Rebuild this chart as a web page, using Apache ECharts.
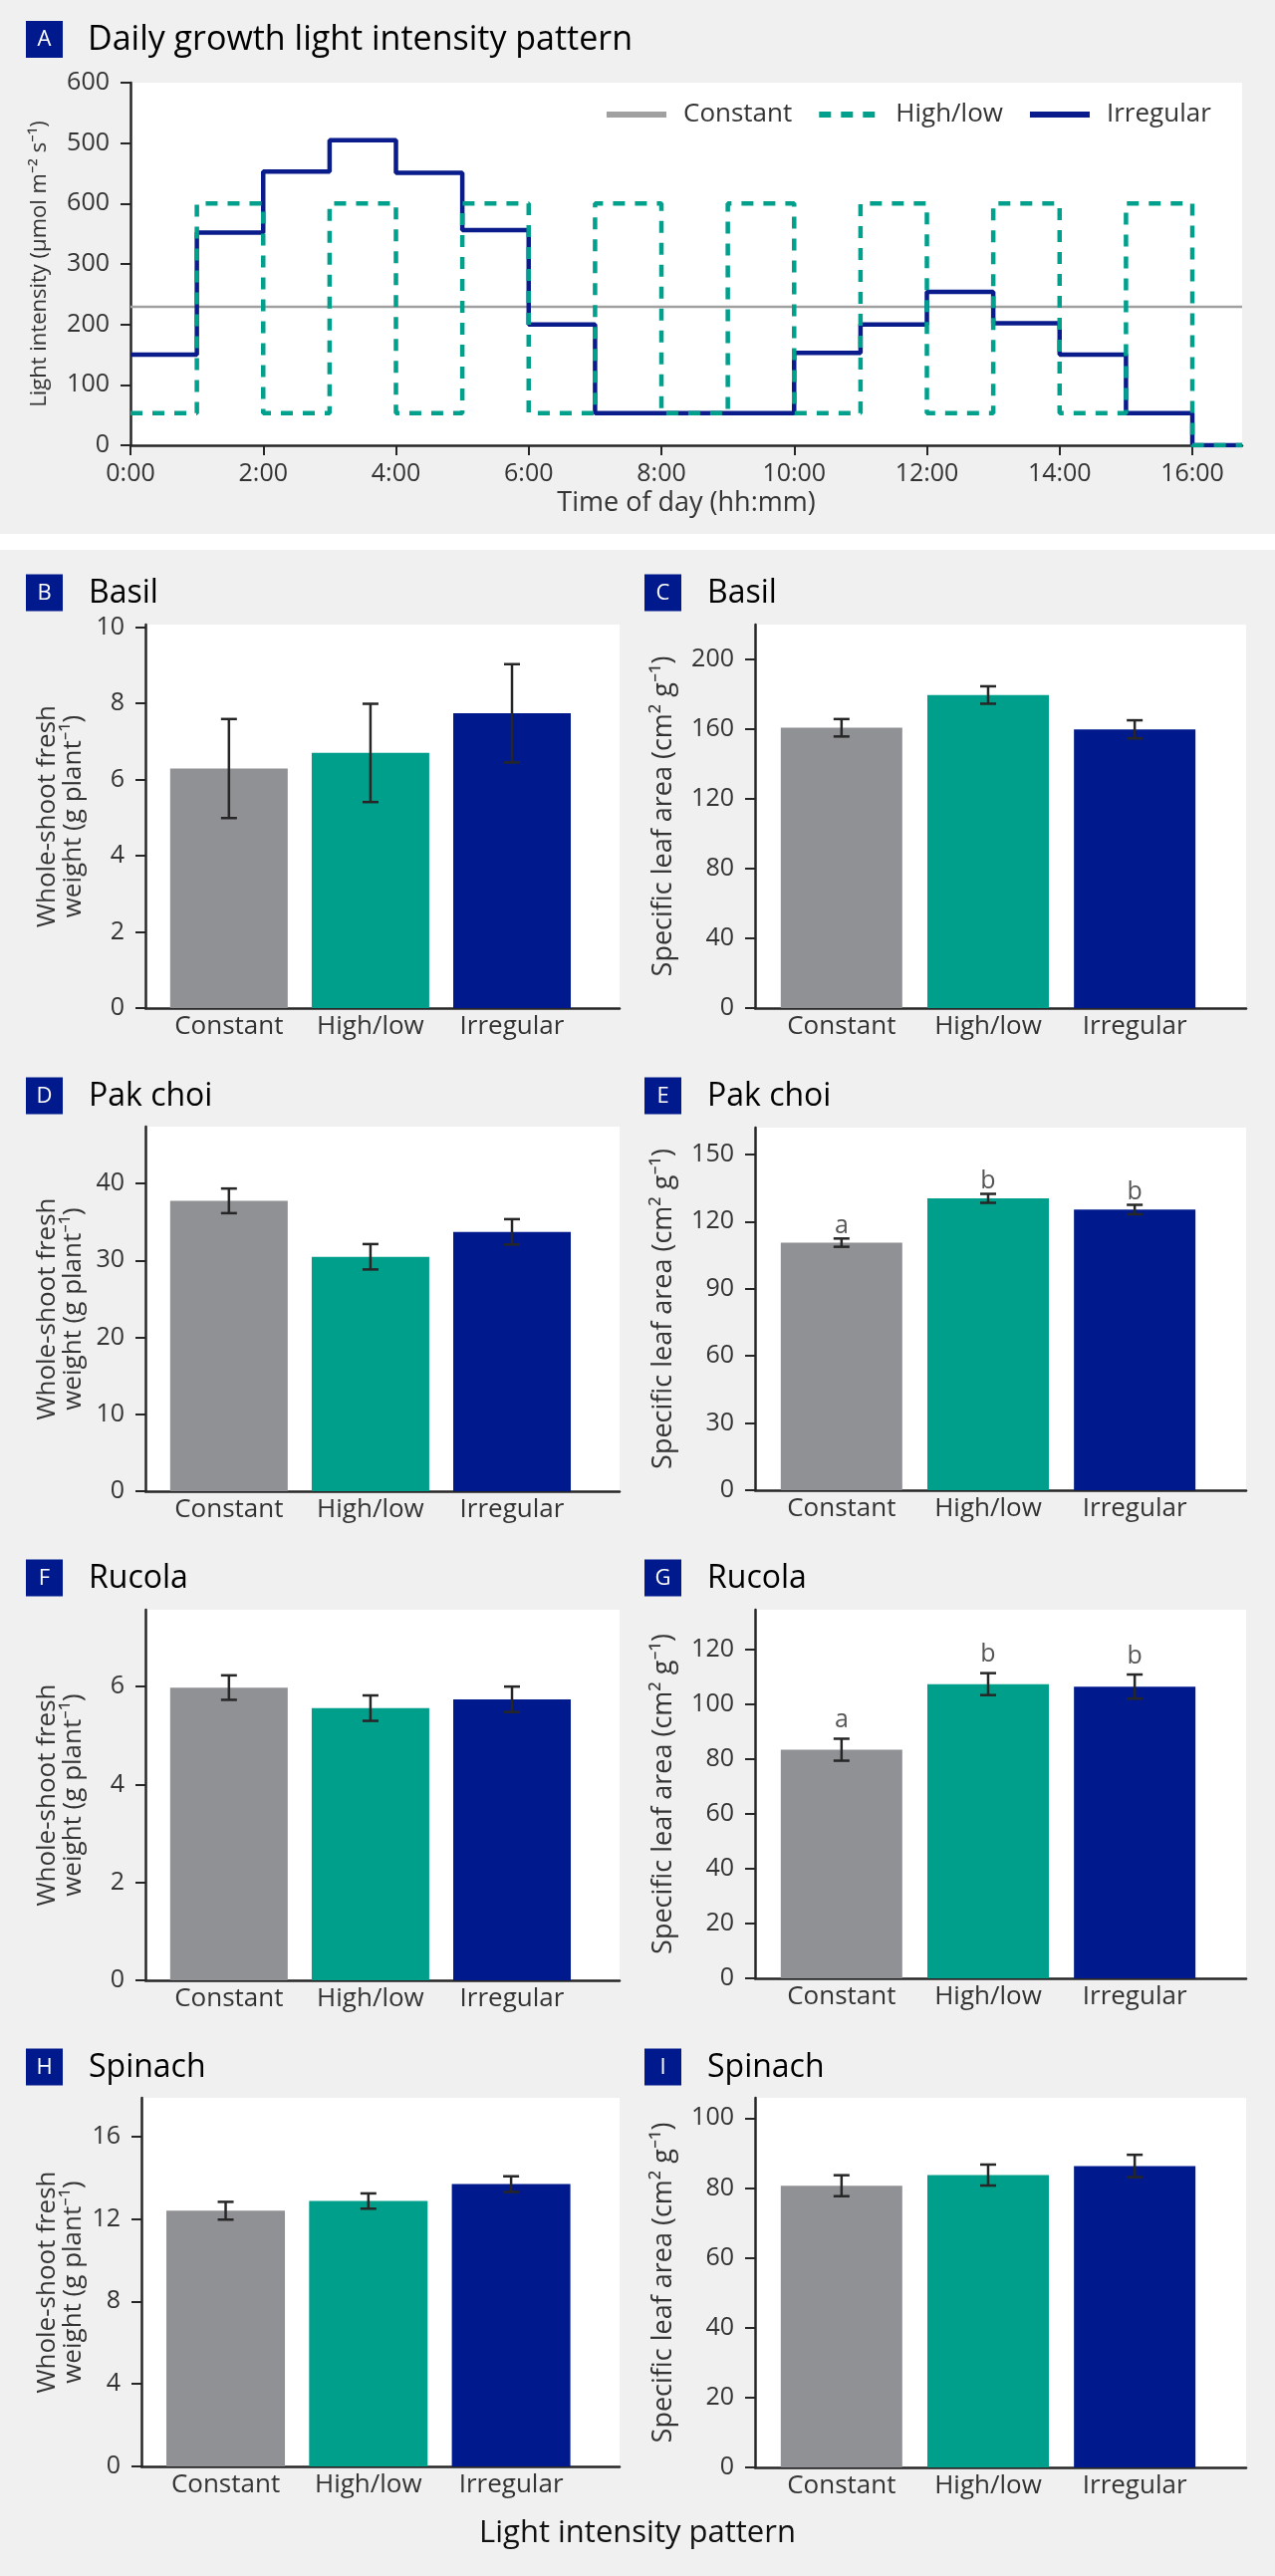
<!DOCTYPE html>
<html>
<head>
<meta charset="utf-8">
<title>Light intensity pattern and plant growth</title>
<script src="https://cdn.jsdelivr.net/npm/echarts@6/dist/echarts.min.js"></script>
<style>
    html, body { margin: 0; padding: 0; background: #f0f0f0; }
    #chart { width: 1280px; height: 2586px; }
</style>
</head>
<body>
<div id="chart"></div>
<script>
// ---- panel A: daily light profile (one level per hour) ----
var hourStarts = [0, 1, 2, 3, 4, 5, 6, 7, 8, 9, 10, 11, 12, 13, 14, 15, 16, 16.75];
var constantLevel = 229;
var highLowLevels = [53, 400, 53, 400, 53, 400, 53, 400, 53, 400, 53, 400, 53, 400, 53, 400, 0];
var irregularLevels = [150, 352, 453, 505, 451, 356, 200, 53, 53, 53, 153, 200, 254, 202, 150, 53, 0];
var hourTicks = [0, 2, 4, 6, 8, 10, 12, 14, 16];
var hourTickLabels = ['0:00', '2:00', '4:00', '6:00', '8:00', '10:00', '12:00', '14:00', '16:00'];
var lightTicks = [0, 100, 200, 300, 400, 500, 600];
var lightTickLabels = ['0', '100', '200', '300', '600', '500', '600'];

// ---- panels B-I: bars with error bars ----
var patterns = ['Constant', 'High/low', 'Irregular'];
var barSlots = [1, 2, 3];

var basilWeight = [6.29, 6.70, 7.74];
var basilWeightErr = [1.30, 1.29, 1.29];
var basilArea = [160.8, 179.6, 159.9];
var basilAreaErr = [5.0, 5.0, 5.2];
var pakChoiWeight = [37.75, 30.48, 33.72];
var pakChoiWeightErr = [1.6, 1.65, 1.65];
var pakChoiArea = [110.6, 130.4, 125.4];
var pakChoiAreaErr = [1.85, 2.0, 2.1];
var pakChoiAreaLetters = ['a', 'b', 'b'];
var rucolaWeight = [5.98, 5.56, 5.74];
var rucolaWeightErr = [0.25, 0.26, 0.26];
var rucolaArea = [83.3, 107.2, 106.3];
var rucolaAreaErr = [4.0, 4.0, 4.4];
var rucolaAreaLetters = ['a', 'b', 'b'];
var spinachWeight = [12.39, 12.86, 13.68];
var spinachWeightErr = [0.43, 0.37, 0.38];
var spinachArea = [80.65, 83.7, 86.3];
var spinachAreaErr = [3.0, 3.0, 3.2];

var basilWeightTicks = [0, 2, 4, 6, 8, 10];
var basilAreaTicks = [0, 40, 80, 120, 160, 200];
var pakChoiWeightTicks = [0, 10, 20, 30, 40];
var pakChoiAreaTicks = [0, 30, 60, 90, 120, 150];
var rucolaWeightTicks = [0, 2, 4, 6];
var rucolaAreaTicks = [0, 20, 40, 60, 80, 100, 120];
var spinachWeightTicks = [0, 4, 8, 12, 16];
var spinachAreaTicks = [0, 20, 40, 60, 80, 100];

var FONT = "'Open Sans', 'Noto Sans', sans-serif",
    INK = '#262626',
    LABEL = '#333333',
    barColors = ['#909195', '#009f8b', '#001a8e'],
    weightName = 'Whole-shoot fresh\nweight (g plant\u207b\u00b9)',
    areaName = 'Specific leaf area (cm\u00b2 g\u207b\u00b9)',
    slotMin = 0.41,
    slotMax = 3.76;

var panels = [
    {key: 'B', title: 'Basil', values: basilWeight, errors: basilWeightErr, ticks: basilWeightTicks, yMax: 10.07, side: 'left', titleY: 596, grid: {left: 146, top: 627, width: 476, height: 385}},
    {key: 'C', title: 'Basil', values: basilArea, errors: basilAreaErr, ticks: basilAreaTicks, yMax: 220, side: 'right', titleY: 596, grid: {left: 758, top: 627, width: 493, height: 385}},
    {key: 'D', title: 'Pak choi', values: pakChoiWeight, errors: pakChoiWeightErr, ticks: pakChoiWeightTicks, yMax: 47.4, side: 'left', titleY: 1101, grid: {left: 146, top: 1131, width: 476, height: 366}},
    {key: 'E', title: 'Pak choi', values: pakChoiArea, errors: pakChoiAreaErr, ticks: pakChoiAreaTicks, yMax: 162, side: 'right', titleY: 1101, letters: pakChoiAreaLetters, letterGap: 0, grid: {left: 758, top: 1132, width: 493, height: 364}},
    {key: 'F', title: 'Rucola', values: rucolaWeight, errors: rucolaWeightErr, ticks: rucolaWeightTicks, yMax: 7.57, side: 'left', titleY: 1585, grid: {left: 146, top: 1616, width: 476, height: 372}},
    {key: 'G', title: 'Rucola', values: rucolaArea, errors: rucolaAreaErr, ticks: rucolaAreaTicks, yMax: 134.3, side: 'right', titleY: 1585, letters: rucolaAreaLetters, letterGap: 6, grid: {left: 758, top: 1616, width: 493, height: 370}},
    {key: 'H', title: 'Spinach', values: spinachWeight, errors: spinachWeightErr, ticks: spinachWeightTicks, yMax: 17.86, side: 'left', titleY: 2076, grid: {left: 142, top: 2106, width: 480, height: 370}},
    {key: 'I', title: 'Spinach', values: spinachArea, errors: spinachAreaErr, ticks: spinachAreaTicks, yMax: 105.8, side: 'right', titleY: 2076, grid: {left: 758, top: 2106, width: 493, height: 371}}
];

function textStyle(size, color, weight) {
    return {fontSize: size, color: color, fontFamily: FONT, fontWeight: weight || 'normal'};
}

function stepData(levels){
    return hourStarts.map(function(t, i){
        return [t, levels[Math.min(i, levels.length - 1)]];
    });
}

function badge(letter, x, yMid){
    return {
        type: 'group', x: x, y: yMid - 18.5, silent: true,
        children: [
            {type: 'rect', shape: {x: 0, y: 0, width: 37, height: 37}, style: {fill: '#001a8e'}},
            {type: 'text', x: 18.5, y: 19, style: {
                text: letter, fill: '#ffffff', fontSize: 22, fontFamily: FONT, fontWeight: 500,
                align: 'center', verticalAlign: 'middle', textAlign: 'center', textVerticalAlign: 'middle'
            }}
        ]
    };
}

function heading(text, x, yMid, size){
    return {
        type: 'text', x: x, y: yMid, silent: true,
        style: {
            text: text, fill: '#000000', fontSize: size || 32, fontFamily: FONT, fontWeight: 500,
            align: 'left', verticalAlign: 'middle', textAlign: 'left', textVerticalAlign: 'middle'
        }
    };
}

function axisLineStyle(){
    return {show: true, onZero: false, lineStyle: {color: INK, width: 2.5}};
}

var grids = [],
    xAxes = [],
    yAxes = [],
    series = [],
    graphics = [];

// page strip between panel A and the rest
graphics.push({type: 'rect', shape: {x: 0, y: 536, width: 1280, height: 16}, style: {fill: '#ffffff'}, silent: true, z: -10});

// ---- panel A ----
grids.push({left: 131, top: 83, width: 1116, height: 364, show: true, backgroundColor: '#ffffff', borderWidth: 0});
xAxes.push({
    type: 'value', gridIndex: 0, min: 0, max: 16.75,
    name: 'Time of day (hh:mm)', nameLocation: 'middle', nameGap: 45,
    nameTextStyle: textStyle(27, LABEL),
    axisLine: axisLineStyle(),
    axisTick: {show: true, customValues: hourTicks, length: 10, lineStyle: {color: INK, width: 2}},
    axisLabel: Object.assign({
        customValues: hourTicks, margin: 16,
        formatter: function(v){ return hourTickLabels[hourTicks.indexOf(v)]; }
    }, textStyle(25, LABEL)),
    splitLine: {show: false}
});
yAxes.push({
    type: 'value', gridIndex: 0, min: 0, max: 600,
    name: 'Light intensity (\u03bcmol m\u207b\u00b2 s\u207b\u00b9)', nameLocation: 'middle', nameGap: 80,
    nameTextStyle: textStyle(22, LABEL),
    axisLine: axisLineStyle(),
    axisTick: {show: true, customValues: lightTicks, length: 10, lineStyle: {color: INK, width: 2}},
    axisLabel: Object.assign({
        customValues: lightTicks, margin: 21,
        formatter: function(v){ return lightTickLabels[lightTicks.indexOf(v)]; }
    }, textStyle(25, LABEL)),
    splitLine: {show: false}
});
series.push({
    name: 'Constant', type: 'line', xAxisIndex: 0, yAxisIndex: 0, symbol: 'none', silent: true, z: 2,
    data: [[0, constantLevel], [hourStarts[hourStarts.length - 1], constantLevel]],
    lineStyle: {color: '#a0a0a0', width: 2.5}, itemStyle: {color: '#a0a0a0'}
});
series.push({
    name: 'Irregular', type: 'line', xAxisIndex: 0, yAxisIndex: 0, symbol: 'none', silent: true, z: 3,
    step: 'end', data: stepData(irregularLevels),
    lineStyle: {color: '#0a1c8c', width: 4.5}, itemStyle: {color: '#0a1c8c'}
});
series.push({
    name: 'High/low', type: 'line', xAxisIndex: 0, yAxisIndex: 0, symbol: 'none', silent: true, z: 4,
    step: 'end', data: stepData(highLowLevels),
    lineStyle: {color: '#00a08c', width: 4.5, type: [12, 10]}, itemStyle: {color: '#00a08c'}
});
graphics.push(badge('A', 26, 39.5));
graphics.push(heading('Daily growth light intensity pattern', 88, 40, 34));

// ---- panels B-I ----
$each = function(list, fn){ for (var i = 0; i < list.length; i++) fn(list[i], i); };

$each(panels, function(p, n){
    var idx = n + 1,
        isLeft = p.side === 'left',
        barWidth = Math.round(p.grid.width / (slotMax - slotMin) * 0.83);

    grids.push(Object.assign({show: true, backgroundColor: '#ffffff', borderWidth: 0}, p.grid));

    xAxes.push({
        type: 'value', gridIndex: idx, min: slotMin, max: slotMax,
        axisLine: axisLineStyle(),
        axisTick: {show: false},
        axisLabel: Object.assign({
            customValues: barSlots, margin: 6,
            formatter: function(v){ return patterns[barSlots.indexOf(v)]; }
        }, textStyle(26, LABEL)),
        splitLine: {show: false}
    });

    yAxes.push({
        type: 'value', gridIndex: idx, min: 0, max: p.yMax,
        name: isLeft ? weightName : areaName, nameLocation: 'middle',
        nameGap: isLeft ? p.grid.left - 87 : 77,
        nameTextStyle: Object.assign({lineHeight: isLeft ? 26 : 30}, textStyle(isLeft ? 26 : 27, LABEL)),
        axisLine: axisLineStyle(),
        axisTick: {show: true, customValues: p.ticks, length: 10, lineStyle: {color: INK, width: 2}},
        axisLabel: Object.assign({customValues: p.ticks, margin: 21}, textStyle(25, LABEL)),
        splitLine: {show: false}
    });

    series.push({
        type: 'bar', xAxisIndex: idx, yAxisIndex: idx, barWidth: barWidth, silent: true, z: 2,
        data: p.values.map(function(v, k){
            return {value: [barSlots[k], v], itemStyle: {color: barColors[k]}};
        })
    });

    series.push({
        type: 'custom', xAxisIndex: idx, yAxisIndex: idx, silent: true, z: 3,
        data: p.values.map(function(v, k){
            return [barSlots[k], v - p.errors[k], v + p.errors[k]];
        }),
        renderItem: function(params, api){
            var lo = api.coord([api.value(0), api.value(1)]),
                hi = api.coord([api.value(0), api.value(2)]),
                half = 8,
                style = {stroke: INK, lineWidth: 2.5};

            return {
                type: 'group',
                children: [
                    {type: 'line', shape: {x1: hi[0], y1: hi[1], x2: lo[0], y2: lo[1]}, style: style},
                    {type: 'line', shape: {x1: hi[0] - half, y1: hi[1], x2: hi[0] + half, y2: hi[1]}, style: style},
                    {type: 'line', shape: {x1: lo[0] - half, y1: lo[1], x2: lo[0] + half, y2: lo[1]}, style: style}
                ]
            };
        }
    });

    if(p.letters){
        series.push({
            type: 'scatter', xAxisIndex: idx, yAxisIndex: idx, silent: true, z: 4,
            symbolSize: 0,
            data: p.values.map(function(v, k){
                return [barSlots[k], v + p.errors[k]];
            }),
            label: Object.assign({
                show: true, position: 'top', distance: p.letterGap,
                formatter: function(params){ return p.letters[params.dataIndex]; }
            }, textStyle(25, '#2a2a2a'))
        });
    }

    graphics.push(badge(p.key, isLeft ? 26 : 647, p.titleY - 1));
    graphics.push(heading(p.title, isLeft ? 89 : 710, p.titleY));
});

graphics.push({
    type: 'text', x: 640, y: 2543, silent: true,
    style: {
        text: 'Light intensity pattern', fill: '#111111', fontSize: 31, fontFamily: FONT,
        align: 'center', verticalAlign: 'middle', textAlign: 'center', textVerticalAlign: 'middle'
    }
});

var chart = echarts.init(document.getElementById('chart'));

chart.setOption({
    backgroundColor: '#f0f0f0',
    animation: false,
    legend: {
        data: ['Constant', 'High/low', 'Irregular'],
        left: 601, top: 97,
        itemWidth: 60, itemHeight: 14, itemGap: 24,
        selectedMode: false,
        itemStyle: {opacity: 0},
        lineStyle: {width: 6},
        textStyle: Object.assign({padding: [0, 0, 0, 12]}, textStyle(26, LABEL))
    },
    grid: grids,
    xAxis: xAxes,
    yAxis: yAxes,
    series: series,
    graphic: graphics
});
</script>
</body>
</html>
